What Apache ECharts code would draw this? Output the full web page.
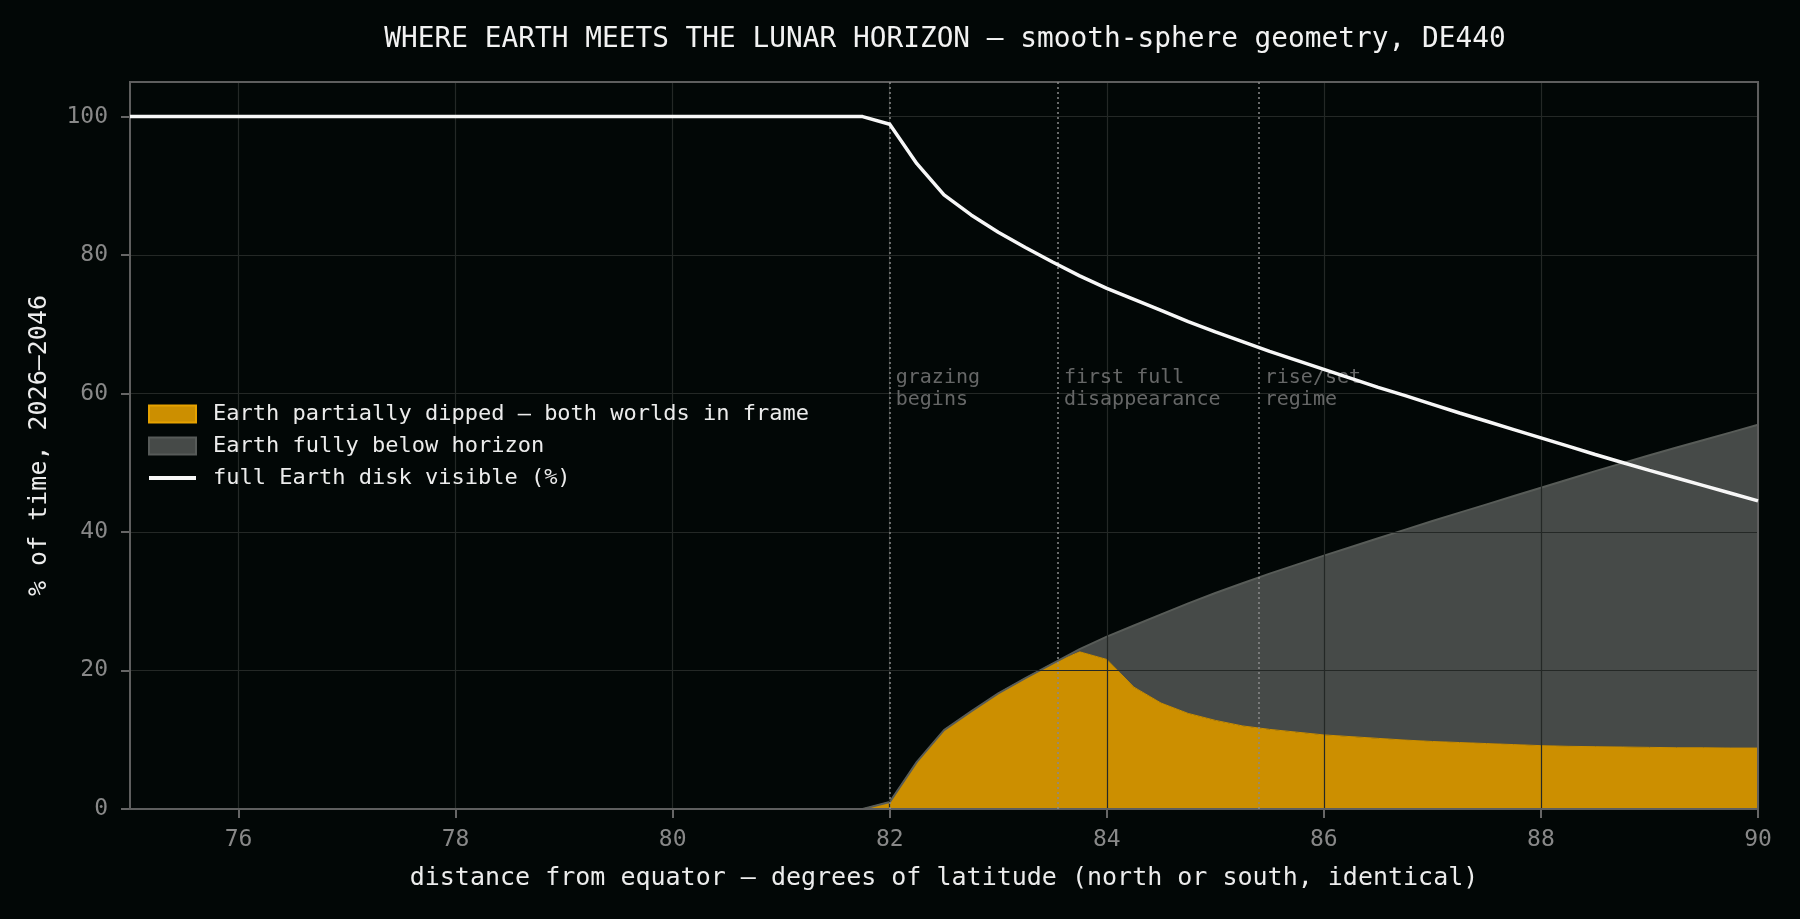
<!DOCTYPE html>
<html>
<head>
<meta charset="utf-8">
<title>Where Earth meets the lunar horizon</title>
<script src="https://cdn.jsdelivr.net/npm/echarts@6/dist/echarts.min.js"></script>
<style>
html,body{margin:0;height:100%;background:#020706;}
#main{width:1800px;height:919px;}
</style>
</head>
<body>
<div id="main"></div>
<script>
// latitude (deg from equator), 0.25 deg steps, and % of time 2026-2046
var latitude = [75, 75.25, 75.5, 75.75, 76, 76.25, 76.5, 76.75, 77, 77.25, 77.5, 77.75,
    78, 78.25, 78.5, 78.75, 79, 79.25, 79.5, 79.75, 80, 80.25, 80.5, 80.75,
    81, 81.25, 81.5, 81.75, 82, 82.25, 82.5, 82.75, 83, 83.25, 83.5, 83.75,
    84, 84.25, 84.5, 84.75, 85, 85.25, 85.5, 85.75, 86, 86.25, 86.5, 86.75,
    87, 87.25, 87.5, 87.75, 88, 88.25, 88.5, 88.75, 89, 89.25, 89.5, 89.75, 90];
var partialDip = [0, 0, 0, 0, 0, 0, 0, 0, 0, 0, 0, 0,
    0, 0, 0, 0, 0, 0, 0, 0, 0, 0, 0, 0,
    0, 0, 0, 0, 1.0, 6.8, 11.4, 14.1, 16.7, 18.9, 21.0, 22.7,
    21.6, 17.6, 15.3, 13.8, 12.8, 12.0, 11.5, 11.1, 10.7, 10.45, 10.2, 9.95,
    9.75, 9.6, 9.45, 9.3, 9.15, 9.05, 9.0, 8.95, 8.9, 8.85, 8.85, 8.8, 8.8];
var fullyBelow = [0, 0, 0, 0, 0, 0, 0, 0, 0, 0, 0, 0,
    0, 0, 0, 0, 0, 0, 0, 0, 0, 0, 0, 0,
    0, 0, 0, 0, 0, 0, 0, 0, 0, 0, 0, 0.4,
    3.3, 8.9, 12.8, 15.9, 18.4, 20.6, 22.5, 24.2, 25.9, 27.4, 28.9, 30.4,
    31.85, 33.2, 34.55, 35.9, 37.25, 38.55, 39.8, 41.0, 42.2, 43.35, 44.45, 45.6, 46.7];
var diskVisible = [100, 100, 100, 100, 100, 100, 100, 100, 100, 100, 100, 100,
    100, 100, 100, 100, 100, 100, 100, 100, 100, 100, 100, 100,
    100, 100, 100, 100, 98.9, 93.2, 88.7, 85.8, 83.3, 81.1, 79.0, 77.0,
    75.2, 73.6, 72.0, 70.4, 68.9, 67.5, 66.1, 64.8, 63.5, 62.2, 60.9, 59.7,
    58.45, 57.2, 56.0, 54.8, 53.6, 52.4, 51.2, 50.05, 48.9, 47.8, 46.7, 45.6, 44.5];

var xTicks = [76, 78, 80, 82, 84, 86, 88, 90];
var eventLat = [82.0, 83.55, 85.4];
var eventText = ['grazing\nbegins', 'first full\ndisappearance', 'rise/set\nregime'];

var seriesNames = ['Earth partially dipped \u2014 both worlds in frame',
    'Earth fully below horizon', 'full Earth disk visible (%)'];

var MONO = 'DejaVu Sans Mono';

function isTick(index, value) {
    return xTicks.indexOf(Number(value)) >= 0;
}

var myChart = echarts.init(document.getElementById('main'));

myChart.setOption({
    backgroundColor: '#020706',
    animation: false,
    title: {
        text: 'WHERE EARTH MEETS THE LUNAR HORIZON \u2014 smooth-sphere geometry, DE440',
        left: 940,
        textAlign: 'center',
        top: 21,
        textStyle: { color: '#f2f2f2', fontFamily: MONO, fontSize: 27.8, fontWeight: 'normal' }
    },
    grid: {
        left: 130, top: 82, width: 1628, height: 727,
        show: true, z: 4,
        borderColor: '#5e5e5e', borderWidth: 2,
        backgroundColor: 'transparent'
    },
    legend: {
        orient: 'vertical',
        left: 143, top: 398,
        itemWidth: 47, itemHeight: 17, itemGap: 10,
        selectedMode: false,
        textStyle: { color: '#ececec', fontFamily: MONO, fontSize: 22, lineHeight: 22, padding: [0, 0, 0, 12] },
        data: [
            { name: seriesNames[0], icon: 'rect', itemStyle: { color: '#cc8f00', borderColor: '#e6a200', borderWidth: 2 } },
            { name: seriesNames[1], icon: 'rect', itemStyle: { color: '#464a48', borderColor: '#575b59', borderWidth: 2 } },
            { name: seriesNames[2], icon: 'path://M0,0H47V4H0Z', itemStyle: { color: '#f7f7f7', borderWidth: 0 } }
        ]
    },
    xAxis: [
        {
            type: 'category',
            data: latitude.map(String),
            boundaryGap: false,
            z: 3,
            name: 'distance from equator \u2014 degrees of latitude (north or south, identical)',
            nameLocation: 'middle',
            nameGap: 57,
            nameTextStyle: { color: '#ececec', fontFamily: MONO, fontSize: 25 },
            axisLine: { show: true, onZero: false, lineStyle: { color: '#666', width: 2 } },
            axisTick: { show: true, length: 9, interval: isTick, lineStyle: { color: '#666', width: 2 } },
            axisLabel: { color: '#888', fontFamily: MONO, fontSize: 23, margin: 20, interval: isTick },
            splitLine: { show: true, interval: isTick, lineStyle: { color: '#242826', width: 1.2 } }
        },
        {
            // plain value axis over the same span, used for the event markers
            type: 'value',
            min: 75, max: 90,
            show: false
        }
    ],
    yAxis: {
        type: 'value',
        min: 0, max: 105, interval: 20,
        z: 3,
        name: '% of time, 2026\u20132046',
        nameLocation: 'middle',
        nameGap: 78,
        nameTextStyle: { color: '#ececec', fontFamily: MONO, fontSize: 25 },
        axisLine: { show: true, lineStyle: { color: '#666', width: 2 } },
        axisTick: { show: true, length: 9, lineStyle: { color: '#666', width: 2 } },
        axisLabel: { color: '#888', fontFamily: MONO, fontSize: 23, margin: 22, showMaxLabel: false },
        splitLine: { show: true, lineStyle: { color: '#242826', width: 1.2 } }
    },
    series: [
        {
            name: seriesNames[0],
            type: 'line',
            stack: 'earth',
            symbol: 'none',
            showSymbol: false,
            data: partialDip,
            lineStyle: { color: '#cc8f00', width: 1 },
            areaStyle: { color: '#cc8f00', opacity: 1 },
            itemStyle: { color: '#cc8f00' },
            z: 2
        },
        {
            name: seriesNames[1],
            type: 'line',
            stack: 'earth',
            symbol: 'none',
            showSymbol: false,
            data: fullyBelow,
            lineStyle: { color: '#585c58', width: 2 },
            areaStyle: { color: '#464a48', opacity: 1 },
            itemStyle: { color: '#464a48' },
            z: 2
        },
        {
            name: seriesNames[2],
            type: 'line',
            symbol: 'none',
            showSymbol: false,
            data: diskVisible,
            lineStyle: { color: '#f7f7f7', width: 3.5 },
            itemStyle: { color: '#f7f7f7' },
            z: 10
        },
        {
            type: 'scatter',
            xAxisIndex: 1,
            silent: true,
            symbolSize: 0,
            data: eventLat.map(function (x) { return [x, 63.9]; }),
            label: {
                show: true,
                position: 'right',
                distance: 6,
                align: 'left',
                verticalAlign: 'top',
                color: '#808080',
                fontFamily: MONO,
                fontSize: 20,
                lineHeight: 22,
                formatter: function (p) { return eventText[p.dataIndex]; }
            },
            markLine: {
                silent: true,
                symbol: 'none',
                label: { show: false },
                emphasis: { disabled: true },
                lineStyle: { color: '#8a8a8a', width: 1.5, type: [2, 3] },
                data: eventLat.map(function (x) { return { xAxis: x }; })
            },
            z: 8
        }
    ]
});
</script>
</body>
</html>
